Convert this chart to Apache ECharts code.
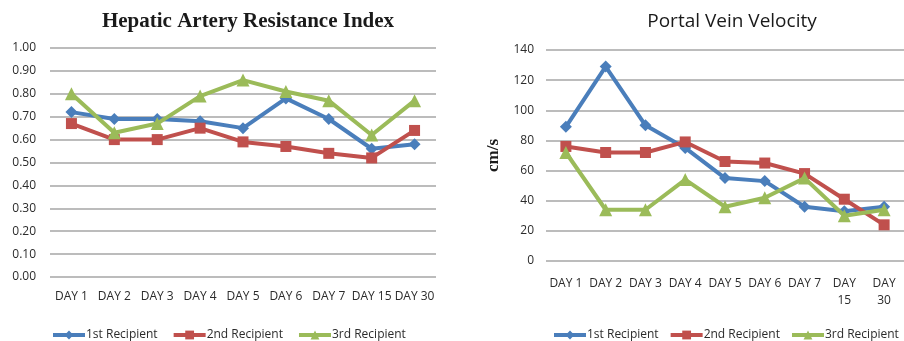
<!DOCTYPE html>
<html>
<head>
<meta charset="utf-8">
<script src="https://cdn.jsdelivr.net/npm/echarts@6/dist/echarts.min.js"></script>
<style>
  html, body { margin: 0; padding: 0; background: #fff; }
  #chart { width: 904px; height: 341px; }
</style>
</head>
<body>
<div id="chart"></div>
<script>
// Shared categories
const days = ['DAY 1', 'DAY 2', 'DAY 3', 'DAY 4', 'DAY 5', 'DAY 6', 'DAY 7', 'DAY 15', 'DAY 30'];
const recipients = ['1st Recipient', '2nd Recipient', '3rd Recipient'];

// Hepatic artery resistance index per recipient
const riFirst  = [0.72, 0.69, 0.69, 0.68, 0.65, 0.78, 0.69, 0.56, 0.58];
const riSecond = [0.67, 0.60, 0.60, 0.65, 0.59, 0.57, 0.54, 0.52, 0.64];
const riThird  = [0.80, 0.63, 0.67, 0.79, 0.86, 0.81, 0.77, 0.62, 0.77];

// Portal vein velocity (cm/s) per recipient
const pvFirst  = [89, 129, 90, 75, 55, 53, 36, 33, 36];
const pvSecond = [76, 72, 72, 79, 66, 65, 58, 41, 24];
const pvThird  = [72, 34, 34, 54, 36, 42, 55, 30, 34];

const colors = ['#4A7EBB', '#C0504D', '#9BBB59'];
const symbols = ['diamond', 'rect', 'triangle'];
const symbolSizes = [12, 11, 13];
const labelFont = 'Open Sans';
const textColor = '#2b2b2b';
const gridColor = '#a6a6a6';

function makeSeries(name, data, idx, axisIdx) {
  return {
    name: name,
    type: 'line',
    data: data,
    xAxisIndex: axisIdx,
    yAxisIndex: axisIdx,
    symbol: symbols[idx],
    symbolSize: symbolSizes[idx],
    showAllSymbol: true,
    lineStyle: { width: 4, color: colors[idx] },
    itemStyle: { color: colors[idx] },
    z: 3 + idx,
    animation: false
  };
}

const chart = echarts.init(document.getElementById('chart'), null, { renderer: 'canvas' });

const legendCommon = {
  data: recipients,
  orient: 'horizontal',
  width: 420,
  itemWidth: 32,
  itemHeight: 11,
  itemGap: 14,
  lineStyle: { width: 4 },
  textStyle: { fontFamily: labelFont, fontSize: 12, color: textColor, padding: [0, 0, 0, -4] },
  selectedMode: false
};

chart.setOption({
  animation: false,
  backgroundColor: '#ffffff',
  title: [
    {
      text: 'Hepatic Artery Resistance Index',
      left: 243, top: 6, textAlign: 'center',
      textStyle: { fontFamily: 'Liberation Serif', fontWeight: 'bold', fontSize: 21, color: '#1a1a1a' }
    },
    {
      text: 'Portal Vein Velocity',
      left: 727, top: 7, textAlign: 'center',
      textStyle: { fontFamily: labelFont, fontWeight: 'normal', fontSize: 19, color: '#1a1a1a' }
    }
  ],
  legend: [
    Object.assign({ left: 46, top: 324 }, legendCommon),
    Object.assign({ left: 547, top: 324 }, legendCommon, { itemGap: 10 })
  ],
  grid: [
    { left: 50, top: 48, width: 386, height: 229 },
    { left: 546, top: 50, width: 360, height: 211 }
  ],
  xAxis: [
    {
      type: 'category', gridIndex: 0, data: days, boundaryGap: true,
      axisLine: { show: false }, axisTick: { show: false },
      axisLabel: { interval: 0, margin: 14, fontFamily: labelFont, fontSize: 12, color: textColor }
    },
    {
      type: 'category', gridIndex: 1, data: days, boundaryGap: true,
      axisLine: { show: false }, axisTick: { show: false },
      axisLabel: {
        interval: 0, margin: 14, lineHeight: 17, fontFamily: labelFont, fontSize: 12, color: textColor,
        formatter: function (v) { return v.length > 5 ? v.replace(' ', '\n') : v; }
      }
    }
  ],
  yAxis: [
    {
      type: 'value', gridIndex: 0, min: 0, max: 1, interval: 0.1,
      axisLine: { show: false }, axisTick: { show: false },
      splitLine: { lineStyle: { color: gridColor, width: 1.5 } },
      axisLabel: { margin: 14, fontFamily: labelFont, fontSize: 12, color: textColor,
        formatter: function (v) { return v.toFixed(2); } }
    },
    {
      type: 'value', gridIndex: 1, min: 0, max: 140, interval: 20,
      name: 'cm/s', nameLocation: 'middle', nameGap: 44, nameRotate: 90,
      nameTextStyle: { fontFamily: 'Liberation Serif', fontWeight: 'bold', fontSize: 17, color: '#1a1a1a' },
      axisLine: { show: false }, axisTick: { show: false },
      splitLine: { lineStyle: { color: gridColor, width: 1.5 } },
      axisLabel: { margin: 12, fontFamily: labelFont, fontSize: 12, color: textColor }
    }
  ],
  series: [
    makeSeries(recipients[0], riFirst, 0, 0),
    makeSeries(recipients[1], riSecond, 1, 0),
    makeSeries(recipients[2], riThird, 2, 0),
    makeSeries(recipients[0], pvFirst, 0, 1),
    makeSeries(recipients[1], pvSecond, 1, 1),
    makeSeries(recipients[2], pvThird, 2, 1)
  ]
});
</script>
</body>
</html>
